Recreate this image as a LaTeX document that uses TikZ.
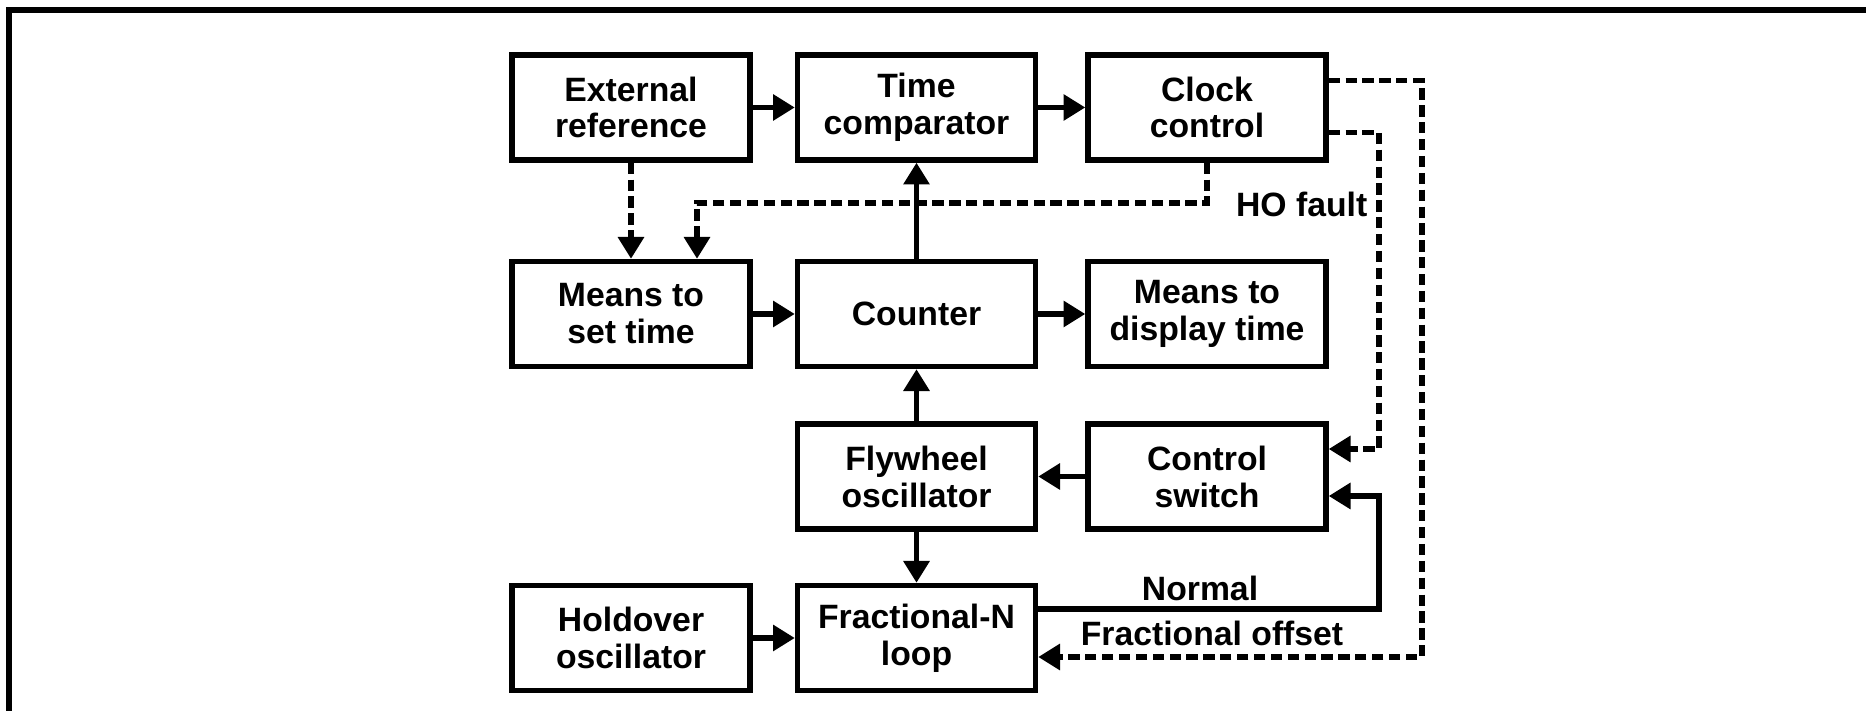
\documentclass[tikz,border=0pt]{standalone}
\usepackage{fontspec}
\setmainfont{Liberation Sans}
\usetikzlibrary{calc}
\usetikzlibrary{arrows.meta}
\tikzset{
    blk/.style={draw, line width=1.55pt, minimum width=2.38cm, minimum height=1.05cm, inner sep=0pt, align=center, font=\bfseries\fontsize{9.6}{10.5}\selectfont},
    con/.style={line width=1.5pt, -{Triangle[length=6.2pt,width=7.2pt]}},
    dsh/.style={con, dash pattern=on 3.2pt off 1.6pt},
    lbl/.style={inner sep=0pt, font=\bfseries\fontsize{9.6}{10.5}\selectfont}
}

\begin{document}
\begin{tikzpicture}
        \useasboundingbox (0,0) rectangle (18.66,7.11);
        % frame
        \draw[line width=1.5pt] (0.09,0) -- (0.09,7.01) -- (18.66,7.01);
        % row 1
        \node[blk] (extref) at (6.31,6.035) {External\\reference};
        \node[blk] (comp) at (9.165,6.035) {Time\\comparator};
        \node[blk] (clock) at (12.07,6.035) {Clock\\control};
        % row 2
        \node[blk] (setter) at (6.31,3.97) {Means to\\set time};
        \node[blk] (counter) at (9.165,3.97) {Counter};
        \node[blk] (display) at (12.07,3.97) {Means to\\display time};
        % row 3
        \node[blk] (fly) at (9.165,2.345) {Flywheel\\oscillator};
        \node[blk] (ctrl) at (12.07,2.345) {Control\\switch};
        % row 4
        \node[blk] (hold) at (6.31,0.73) {Holdover\\oscillator};
        \node[blk] (fracn) at (9.165,0.73) {Fractional-N\\loop};
        % bends
        \coordinate (cbend) at (6.97,5.08);
        \coordinate (inx) at (13.79,0);
        \coordinate (outx) at (14.22,0);
        % solid links
        \draw[con] (extref) -- (comp);
        \draw[con] (comp) -- (clock);
        \draw[con] (counter) -- (comp);
        \draw[con] (setter) -- (counter);
        \draw[con] (counter) -- (display);
        \draw[con] (fly) -- (counter);
        \draw[con] (ctrl) -- (fly);
        \draw[con] (fly) -- (fracn);
        \draw[con] (hold) -- (fracn);
        \draw[con] ($(fracn.east)+(0,0.29)$) -| ($(inx |- ctrl.east)+(0,-0.195)$) -- ($(ctrl.east)+(0,-0.195)$);
        % dashed links
        \draw[dsh] (extref) -- (setter);
        \draw[dsh] (clock.south) |- (cbend) -- (cbend |- setter.north);
        \draw[dsh] ($(clock.east)+(0,-0.25)$) -| ($(inx |- ctrl.east)+(0,0.275)$) -- ($(ctrl.east)+(0,0.275)$);
        \draw[dsh] ($(clock.east)+(0,0.27)$) -| ($(outx |- fracn.east)+(0,-0.19)$) -- ($(fracn.east)+(0,-0.19)$);
        % labels
        \node[lbl, anchor=east] (hofault) at (13.68,5.07) {HO fault};
        \node[lbl] (normal) at (12.00,1.23) {Normal};
        \node[lbl] (offset) at (12.12,0.78) {Fractional offset};
\end{tikzpicture}
\end{document}
